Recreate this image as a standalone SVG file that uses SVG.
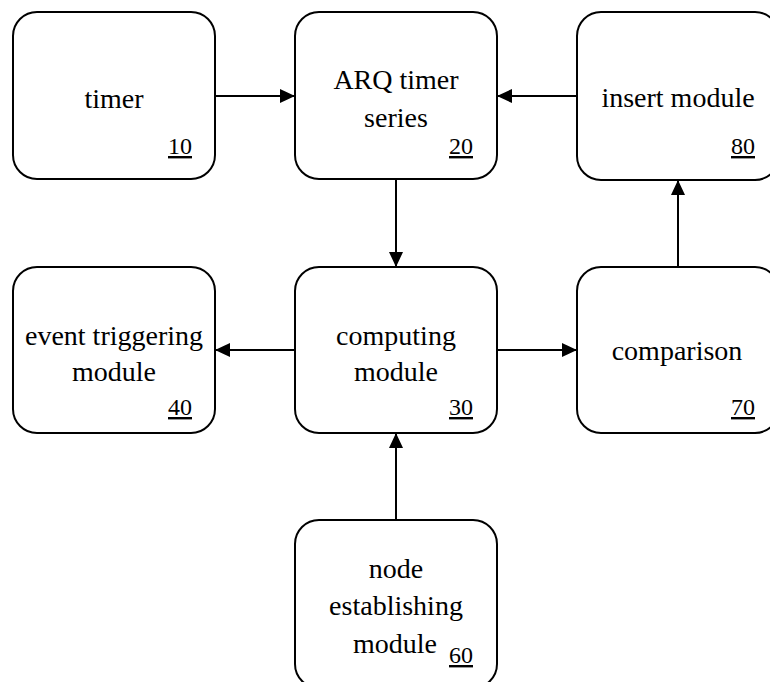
<svg xmlns="http://www.w3.org/2000/svg" width="770" height="682" viewBox="0 0 770 682">
<style>
.box{fill:#fff;stroke:#000;stroke-width:2}
.lbl{font-family:'Liberation Serif','Times New Roman',serif;font-size:28px;fill:#000;text-anchor:middle}
.num{font-family:'Liberation Serif','Times New Roman',serif;font-size:24px;fill:#000;text-anchor:end;text-decoration:underline}
.con{stroke:#000;stroke-width:2;fill:none;marker-end:url(#ah)}
</style>
<defs>
<marker id="ah" markerUnits="userSpaceOnUse" markerWidth="16" markerHeight="14" refX="15" refY="7" orient="auto">
<path d="M0,0 L15,7 L0,14 Z" fill="#000"/>
</marker>
</defs>
<rect width="770" height="682" fill="#fff"/>
<g id="connectors">
<line class="con" x1="215" y1="96" x2="295" y2="96"/>
<line class="con" x1="577" y1="96" x2="497" y2="96"/>
<line class="con" x1="396" y1="179" x2="396" y2="267"/>
<line class="con" x1="295" y1="350" x2="215" y2="350"/>
<line class="con" x1="497" y1="350" x2="577" y2="350"/>
<line class="con" x1="678" y1="267" x2="678" y2="180"/>
<line class="con" x1="396" y1="520" x2="396" y2="433"/>
</g>
<g id="n10">
<rect class="box" x="13" y="12" width="202" height="167" rx="24"/>
<text class="lbl" x="114" y="108">timer</text>
<text class="num" x="192" y="154">10</text>
</g>
<g id="n20">
<rect class="box" x="295" y="12" width="202" height="167" rx="24"/>
<text class="lbl" x="396" y="89">ARQ timer</text>
<text class="lbl" x="396" y="127">series</text>
<text class="num" x="473" y="154">20</text>
</g>
<g id="n80">
<rect class="box" x="577" y="12" width="202" height="168" rx="24"/>
<text class="lbl" x="678" y="107">insert module</text>
<text class="num" x="755" y="154">80</text>
</g>
<g id="n40">
<rect class="box" x="13" y="267" width="202" height="166" rx="24"/>
<text class="lbl" x="114" y="345">event triggering</text>
<text class="lbl" x="114" y="381">module</text>
<text class="num" x="192" y="415">40</text>
</g>
<g id="n30">
<rect class="box" x="295" y="267" width="202" height="166" rx="24"/>
<text class="lbl" x="396" y="345">computing</text>
<text class="lbl" x="396" y="381">module</text>
<text class="num" x="473" y="415">30</text>
</g>
<g id="n70">
<rect class="box" x="577" y="267" width="202" height="166" rx="24"/>
<text class="lbl" x="677" y="360">comparison</text>
<text class="num" x="755" y="415">70</text>
</g>
<g id="n60">
<rect class="box" x="295" y="520" width="202" height="168" rx="24"/>
<text class="lbl" x="396" y="578">node</text>
<text class="lbl" x="396" y="615">establishing</text>
<text class="lbl" x="395" y="653">module</text>
<text class="num" x="473" y="663">60</text>
</g>
</svg>
